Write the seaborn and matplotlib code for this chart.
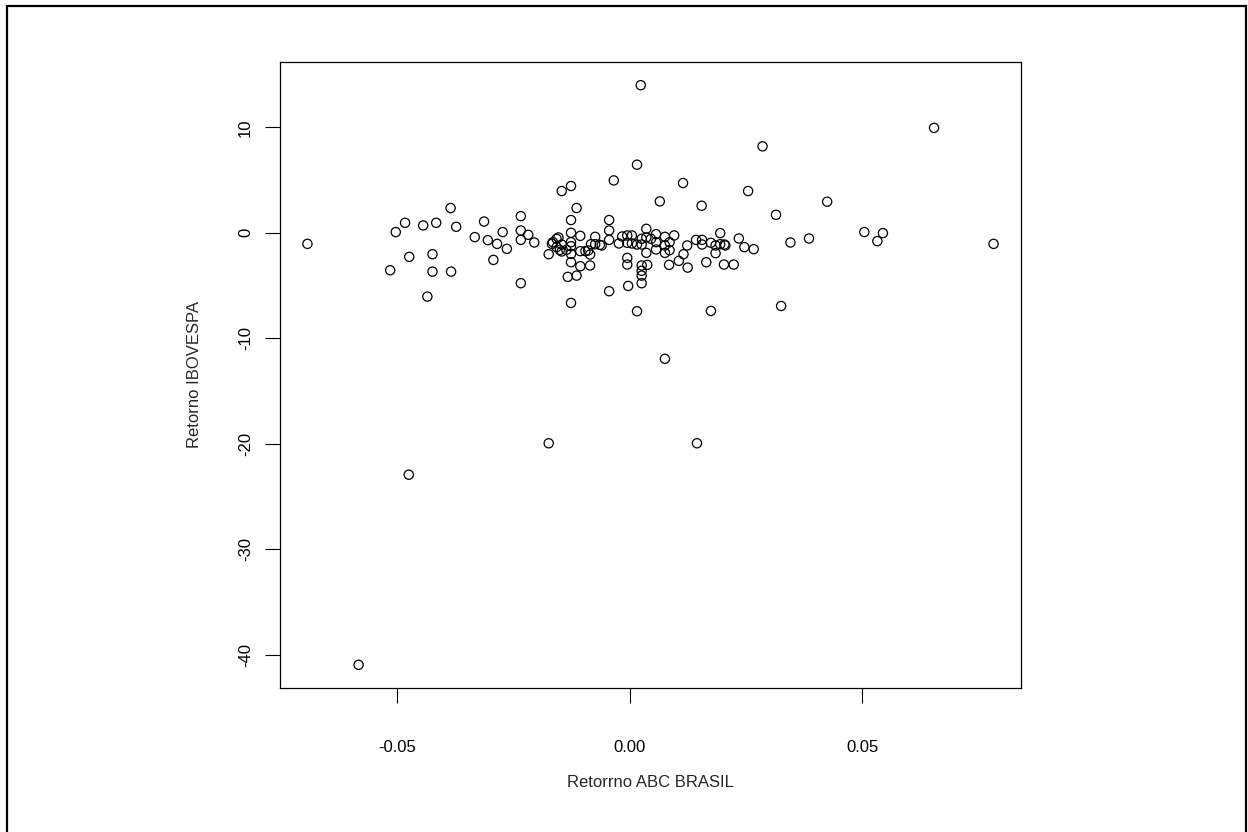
import numpy as np
import pandas as pd
import matplotlib
matplotlib.use("Agg")
import matplotlib.pyplot as plt
import matplotlib.patches as patches
import seaborn as sns

# retornos (ABC BRASIL x IBOVESPA)
ret_abc = [
    -0.0693, -0.0385, -0.0483, -0.0503, -0.0444, -0.0416, -0.0373, -0.0313, -0.0333, -0.0305,
    -0.0285, -0.0273, -0.0264, -0.0293, -0.0474, -0.0424, -0.0515, -0.0424, -0.0384, -0.0435,
    -0.0234, -0.0234, -0.0234, -0.0234, -0.0218, 0.0286, 0.0016, -0.0034, -0.0146, -0.0126,
    0.0115, 0.0255, 0.0065, 0.0155, -0.0114, -0.0126, -0.0044, -0.0205, -0.0044, -0.0044,
    -0.0126, -0.0106, -0.0153, -0.0167, -0.0174, -0.0146, -0.0146, -0.0157, -0.0126, -0.0126,
    -0.0126, -0.0126, -0.0106, -0.0085, -0.0133, -0.0114, -0.0126, -0.0106, -0.0095, -0.0085,
    -0.0083, -0.0074, -0.0074, -0.0064, -0.0044, -0.0023, -0.0016, -0.0005, 0.0005, -0.0005,
    0.0005, -0.0005, -0.0005, -0.0003, 0.0016, 0.0016, 0.0026, 0.0026, 0.0026, 0.0026,
    0.0026, 0.0038, 0.0036, 0.0036, 0.0036, 0.0046, 0.0057, 0.0057, 0.0057, 0.0076,
    0.0076, 0.0076, 0.0086, 0.0086, 0.0096, 0.0085, 0.0106, 0.0116, 0.0124, 0.0125,
    0.0143, 0.0156, 0.0156, 0.0165, 0.0175, 0.0175, 0.0185, 0.0185, 0.0195, 0.0195,
    0.0204, 0.0203, 0.0224, 0.0235, 0.0247, 0.0267, 0.0655, 0.0425, 0.0315, 0.0346,
    0.0386, 0.0505, 0.0545, 0.0533, 0.0783, 0.0326, 0.0076, -0.0475, -0.0174, 0.0145,
    -0.0583, 0.0024, -0.0165, -0.0157, -0.0136, -0.0150, -0.0089, -0.0060, 0.0206, 0.0026,
]
ret_ibov = [
    -1.05, 2.35, 0.95, 0.07, 0.70, 0.95, 0.57, 1.07, -0.41, -0.70,
    -1.05, 0.07, -1.52, -2.57, -2.28, -2.03, -3.55, -3.68, -3.68, -6.05,
    1.58, 0.22, -0.67, -4.78, -0.19, 8.20, 6.46, 4.97, 3.96, 4.44,
    4.72, 3.96, 2.98, 2.57, 2.35, 1.21, 1.21, -0.92, 0.22, -0.67,
    0.00, -0.29, -0.44, -1.05, -2.03, -1.11, -1.77, -1.36, -0.89, -1.27,
    -2.00, -2.79, -3.17, -3.10, -4.18, -4.06, -6.65, -1.74, -1.74, -2.06,
    -1.08, -0.38, -1.08, -1.14, -5.54, -1.01, -0.35, -0.25, -0.25, -0.95,
    -1.01, -2.38, -3.01, -5.04, -7.44, -1.11, -0.57, -1.11, -3.10, -4.06,
    -4.78, -3.04, 0.38, -0.44, -1.90, -0.57, -0.13, -0.89, -1.58, -0.38,
    -1.20, -1.90, -0.89, -1.65, -0.25, -3.04, -2.66, -2.03, -1.20, -3.30,
    -0.67, -0.67, -1.11, -2.79, -7.41, -0.95, -1.20, -1.93, -0.03, -1.08,
    -1.11, -3.01, -3.01, -0.54, -1.36, -1.55, 9.95, 2.95, 1.71, -0.92,
    -0.54, 0.07, -0.03, -0.79, -1.05, -6.94, -11.95, -22.94, -19.96, -19.96,
    -40.97, 14.00, -0.89, -0.57, -1.62, -1.62, -1.68, -1.20, -1.20, -3.60,
]

xticks = [-0.05, 0.00, 0.05]
xtick_labels = ["-0.05", "0.00", "0.05"]
yticks = [10, 0, -10, -20, -30, -40]

df = pd.DataFrame({"abc": ret_abc, "ibov": ret_ibov})

sns.set_style("white")
plt.rcParams["font.family"] = ["Liberation Sans", "DejaVu Sans"]

fig = plt.figure(figsize=(12.48, 8.32), dpi=100)
ax = fig.add_axes([280 / 1248, 1 - 688 / 832, 741 / 1248, 626 / 832])

sns.scatterplot(data=df, x="abc", y="ibov", ax=ax, marker="o", s=44,
                facecolors="none", edgecolor="black", linewidth=0.9)

# limites no estilo R (4% de folga)
def r_lim(v):
    lo, hi = min(v), max(v)
    d = (hi - lo) * 0.04
    return lo - d, hi + d

ax.set_xlim(*r_lim(ret_abc))
ax.set_ylim(*r_lim(ret_ibov))

ax.set_xticks(xticks)
ax.set_xticklabels(xtick_labels)
ax.set_yticks(yticks)
ax.set_yticklabels([str(t) for t in yticks], rotation=90, va="center")

ax.tick_params(axis="both", direction="out", length=10.5, width=0.8,
               color="black", labelsize=12, labelcolor="black",
               bottom=True, left=True)
ax.tick_params(axis="x", pad=27)
ax.tick_params(axis="y", pad=9)

for sp in ax.spines.values():
    sp.set_visible(True)
    sp.set_color("black")
    sp.set_linewidth(0.9)

ax.set_xlabel("Retorrno ABC BRASIL", fontsize=12, labelpad=14)
ax.set_ylabel("Retorno IBOVESPA", fontsize=12, labelpad=26)

# moldura externa (borda de baixo fica fora da imagem)
fig.patches.append(patches.Rectangle((7 / 1248, -10 / 832), 1239 / 1248, 836 / 832,
                                     transform=fig.transFigure, fill=False,
                                     edgecolor="black", linewidth=1.6))

fig.savefig("out.png", dpi=100)
